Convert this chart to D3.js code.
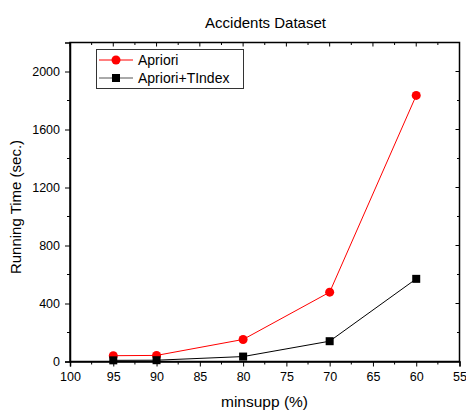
<!DOCTYPE html>
<html><head><meta charset="utf-8">
<script src="https://cdn.jsdelivr.net/npm/d3@7"></script>
<style>body{margin:0;background:#fff}svg text{font-family:Arial,"Liberation Sans",sans-serif}</style>
</head><body><svg id="c" width="466" height="411"></svg>
<script>
const minsupp = [95, 90, 80, 70, 60];
const apriori = [40, 42, 152, 478, 1835];
const aprioriTIndex = [8, 9, 34, 140, 570];
const xTicks = [100, 95, 90, 85, 80, 75, 70, 65, 60, 55];
const yTicks = [0, 400, 800, 1200, 1600, 2000];
const seriesNames = ["Apriori", "Apriori+TIndex"];

const svg = d3.select("#c");
const L = 70, R = 459.5, T = 42.5, B = 361.5;
const x = d3.scaleLinear().domain([100, 55]).range([L, R]);
const y = d3.scaleLinear().domain([0, 2200]).range([B, T]);

// frame
svg.append("rect").attr("x", L).attr("y", T).attr("width", R - L).attr("height", B - T)
  .attr("fill", "none").attr("stroke", "#000").attr("stroke-width", 1.5);

// bottom axis
const gx = svg.append("g").attr("transform", `translate(0,${B})`)
  .call(d3.axisBottom(x).tickValues(xTicks).tickSize(5).tickPadding(6).tickFormat(d3.format("d")));
gx.select(".domain").attr("stroke-width", 1.5);
gx.selectAll("text").attr("font-size", 12.5).attr("fill", "#000");
const minorX = d3.range(97.5, 55, -5);
gx.selectAll(".mx").data(minorX).enter().append("line").attr("class", "mx")
  .attr("x1", d => x(d)).attr("x2", d => x(d)).attr("y1", 0).attr("y2", 3).attr("stroke", "#000");
// top ticks inward
const gt = svg.append("g").attr("transform", `translate(0,${T})`);
gt.selectAll("line").data(xTicks.concat(minorX)).enter().append("line")
  .attr("x1", d => x(d)).attr("x2", d => x(d)).attr("y1", 0).attr("y2", d => xTicks.includes(d) ? 4 : 2.5).attr("stroke", "#000");

// left axis
const gy = svg.append("g").attr("transform", `translate(${L},0)`)
  .call(d3.axisLeft(y).tickValues(yTicks).tickSize(5).tickPadding(5).tickFormat(d3.format("d")));
gy.select(".domain").attr("stroke-width", 1.5);
gy.selectAll("text").attr("font-size", 12.5).attr("fill", "#000");
const minorY = d3.range(200, 2200, 400);
gy.selectAll(".my").data(minorY).enter().append("line").attr("class", "my")
  .attr("x1", 0).attr("x2", -3).attr("y1", d => y(d)).attr("y2", d => y(d)).attr("stroke", "#000");
// right ticks inward
const gr = svg.append("g").attr("transform", `translate(${R},0)`);
gr.selectAll("line").data(yTicks.concat(minorY)).enter().append("line")
  .attr("x1", 0).attr("x2", d => yTicks.includes(d) ? -4 : -2.5).attr("y1", d => y(d)).attr("y2", d => y(d)).attr("stroke", "#000");

// labels
svg.append("text").attr("x", 265.5).attr("y", 27.5).attr("text-anchor", "middle").attr("font-size", 15).text("Accidents Dataset");
svg.append("text").attr("x", 264.5).attr("y", 407).attr("text-anchor", "middle").attr("font-size", 15.5).text("minsupp (%)");
svg.append("text").attr("transform", "translate(20.5,207) rotate(-90)").attr("text-anchor", "middle").attr("font-size", 15).text("Running Time (sec.)");

// lines
const line = d3.line().x((d, i) => x(minsupp[i])).y(d => y(d));
svg.append("path").datum(apriori).attr("d", line).attr("fill", "none").attr("stroke", "#ff0000").attr("stroke-width", 1);
svg.append("path").datum(aprioriTIndex).attr("d", line).attr("fill", "none").attr("stroke", "#000").attr("stroke-width", 1);
svg.selectAll(".pt1").data(apriori).enter().append("circle")
  .attr("cx", (d, i) => x(minsupp[i])).attr("cy", d => y(d)).attr("r", 4.5).attr("fill", "#ff0000");
svg.selectAll(".pt2").data(aprioriTIndex).enter().append("rect")
  .attr("x", (d, i) => x(minsupp[i]) - 4).attr("y", d => y(d) - 4).attr("width", 8).attr("height", 8).attr("fill", "#000");

// legend
const lg = svg.append("g");
lg.append("rect").attr("x", 96.5).attr("y", 49.5).attr("width", 147).attr("height", 39)
  .attr("fill", "#fff").attr("stroke", "#333").attr("stroke-width", 1);
lg.append("line").attr("x1", 99).attr("x2", 133).attr("y1", 60).attr("y2", 60).attr("stroke", "#ff0000");
lg.append("circle").attr("cx", 116).attr("cy", 60).attr("r", 4.5).attr("fill", "#ff0000");
lg.append("line").attr("x1", 99).attr("x2", 133).attr("y1", 78).attr("y2", 78).attr("stroke", "#555");
lg.append("rect").attr("x", 112).attr("y", 74).attr("width", 8).attr("height", 8).attr("fill", "#000");
lg.append("text").attr("x", 138).attr("y", 65).attr("font-size", 14).text(seriesNames[0]);
lg.append("text").attr("x", 138).attr("y", 83).attr("font-size", 14).text(seriesNames[1]);
</script></body></html>
